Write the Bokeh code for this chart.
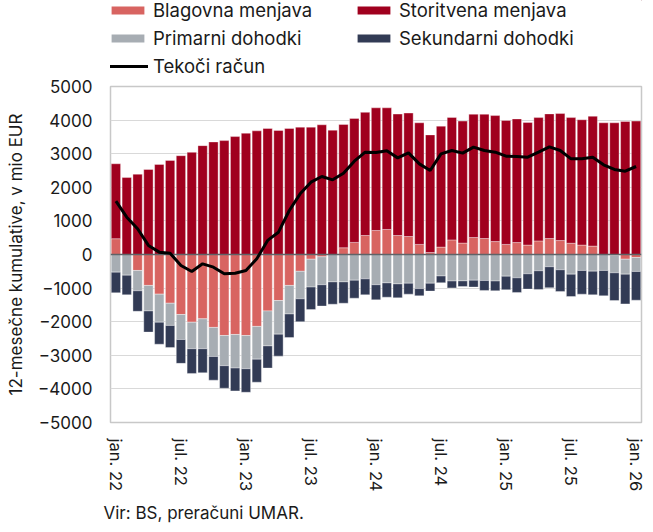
import math
import numpy as np
from bokeh.plotting import figure
from bokeh.layouts import column
from bokeh.models import Legend, LegendItem, FixedTicker, Range1d, Title
from bokeh.embed import file_html
from bokeh.resources import INLINE

# ---- data (12-month cumulative, mio EUR) ----
month_names = ["jan.", "feb.", "mar.", "apr.", "maj", "jun.", "jul.", "avg.", "sep.", "okt.", "nov.", "dec."]
months = [f"{month_names[i % 12]} {22 + i // 12}" for i in range(49)]

blagovna = [470, 0, -475, -920, -1180, -1450, -1785, -2015, -1915, -2170, -2410, -2380,
            -2410, -2140, -1680, -1370, -920, -500, -140, -70, 0, 200, 360, 565,
            715, 745, 565, 535, 300, 60, 220, 435, 340, 505, 475, 385,
            300, 355, 280, 405, 475, 415, 335, 280, 250, 0, -20, -140, -90]
storitvena = [2230, 2290, 2390, 2530, 2680, 2800, 2940, 3040, 3240, 3350, 3390, 3510,
              3610, 3680, 3750, 3690, 3750, 3790, 3790, 3860, 3700, 3670, 3690, 3665,
              3650, 3620, 3615, 3675, 3620, 3500, 3600, 3645, 3630, 3670, 3700, 3750,
              3690, 3680, 3650, 3670, 3710, 3780, 3740, 3730, 3865, 3920, 3920, 3960, 3970]
primarni = [-525, -615, -605, -760, -835, -660, -745, -790, -890, -865, -900, -1000,
            -990, -975, -1040, -1000, -850, -820, -830, -830, -815, -815, -765, -725,
            -900, -845, -875, -855, -1015, -855, -640, -790, -785, -765, -775, -790,
            -645, -695, -575, -485, -365, -455, -585, -475, -495, -475, -525, -445, -415]
sekundarni = [-615, -585, -610, -630, -655, -660, -710, -735, -715, -705, -670, -680,
              -700, -685, -660, -655, -700, -680, -670, -635, -665, -635, -535, -475,
              -450, -425, -415, -325, -215, -235, -200, -205, -170, -205, -295, -290,
              -405, -435, -455, -555, -625, -645, -665, -705, -705, -755, -825, -885, -855]
tekoci = [1590, 1110, 765, 270, 70, 40, -327, -506, -278, -377, -575, -556,
          -476, -128, 420, 664, 1310, 1806, 2152, 2321, 2222, 2420, 2777, 3045,
          3035, 3085, 2876, 3025, 2698, 2500, 2996, 3095, 3016, 3194, 3095, 3046,
          2927, 2917, 2897, 3046, 3204, 3095, 2847, 2847, 2897, 2669, 2530, 2480, 2619]

series_names = ["Blagovna menjava", "Storitvena menjava", "Primarni dohodki", "Sekundarni dohodki"]
series_vals = [blagovna, storitvena, primarni, sekundarni]
series_colors = ["#D86461", "#A0001E", "#A7ADB3", "#323B55"]
line_name = "Tekoči račun"
source_note = "Vir: BS, preračuni UMAR."

FONT = "Inter"
TXT = "#1a1a1a"
W = 653

# ---------- legend strip ----------
leg_fig = figure(width=W, height=77, output_backend="svg", toolbar_location=None,
                 x_range=Range1d(0, 1), y_range=Range1d(0, 1),
                 min_border_left=110, min_border_right=12, min_border_top=0, min_border_bottom=0)
leg_fig.axis.visible = False
leg_fig.grid.visible = False
leg_fig.outline_line_color = None
leg_r = {}
for name, col in zip(series_names, series_colors):
    # a single hidden point (outside the visible range) so the legend swatch gets its colour
    leg_r[name] = leg_fig.vbar(x=[5], top=[5], bottom=[4], width=0.5, fill_color=col, line_color=None)
leg_line = leg_fig.line(x=[5, 6], y=[5, 5], line_color="black", line_width=3)
items = [
    LegendItem(label=series_names[0], renderers=[leg_r[series_names[0]]]),
    LegendItem(label=series_names[2], renderers=[leg_r[series_names[2]]]),
    LegendItem(label=line_name, renderers=[leg_line]),
    LegendItem(label=series_names[1], renderers=[leg_r[series_names[1]]]),
    LegendItem(label=series_names[3], renderers=[leg_r[series_names[3]]]),
]
legend = Legend(items=items, orientation="vertical", nrows=3, location=(-3, 0),
                glyph_width=41, glyph_height=10, label_standoff=5, label_width=194,
                label_height=21, spacing=6, padding=0, margin=0,
                border_line_color=None, background_fill_alpha=0,
                label_text_font=FONT, label_text_font_size="18.5px", label_text_color=TXT)
leg_fig.add_layout(legend, "center")

# ---------- main chart ----------
x = np.arange(len(months))
p = figure(width=W, height=455, output_backend="svg", toolbar_location=None,
           x_range=Range1d(-0.5, len(months) - 0.5), y_range=Range1d(-5000, 5000),
           min_border_left=110, min_border_right=12, min_border_top=9, min_border_bottom=110)

pos = np.zeros(len(months))
neg = np.zeros(len(months))
for name, vals, col in zip(series_names, series_vals, series_colors):
    v = np.array(vals, dtype=float)
    bottom = np.where(v >= 0, pos, neg)
    top = bottom + v
    pos = np.where(v >= 0, pos + v, pos)
    neg = np.where(v < 0, neg + v, neg)
    p.vbar(x=x, top=top, bottom=bottom, width=0.86, fill_color=col,
           line_color="white", line_alpha=0.45, line_width=0.8)

p.hspan(y=[0], line_color="#5f6368", line_width=1.5)
p.line(x, tekoci, line_color="black", line_width=3)

p.xaxis.ticker = FixedTicker(ticks=list(range(0, len(months), 6)))
p.xaxis.major_label_overrides = {i: months[i] for i in range(0, len(months), 6)}
p.xaxis.major_label_orientation = "vertical"
p.yaxis.ticker = FixedTicker(ticks=list(range(-5000, 5001, 1000)))
for ax in (p.xaxis[0], p.yaxis[0]):
    ax.axis_line_color = None
    ax.major_tick_line_color = None
    ax.minor_tick_line_color = None
    ax.major_tick_out = 0
    ax.major_tick_in = 0
    ax.major_label_text_font = FONT
    ax.major_label_text_color = TXT
p.xaxis.major_label_text_font_size = "16.5px"
p.yaxis.major_label_text_font_size = "17px"
p.xaxis.major_label_standoff = 16
p.yaxis.major_label_standoff = 18
p.yaxis.axis_label = "12-mesečne kumulative, v mio EUR"
p.yaxis.axis_label_text_font = FONT
p.yaxis.axis_label_text_font_size = "17px"
p.yaxis.axis_label_text_font_style = "normal"
p.yaxis.axis_label_text_color = TXT
p.yaxis.axis_label_standoff = 9

p.xgrid.grid_line_color = None
p.ygrid.grid_line_color = "#d9d9d9"
p.ygrid.grid_line_width = 1
p.outline_line_color = "#c8c8c8"
p.outline_line_width = 1.5
p.background_fill_color = "white"
p.border_fill_color = "white"

# ---------- source note ----------
p.add_layout(Title(text=source_note, align="left", offset=-7, standoff=12,
                   text_font=FONT, text_font_size="17px", text_font_style="normal",
                   text_color=TXT), "below")

layout = column(leg_fig, p, spacing=0)
open("out.html", "w").write(file_html(layout, INLINE))
